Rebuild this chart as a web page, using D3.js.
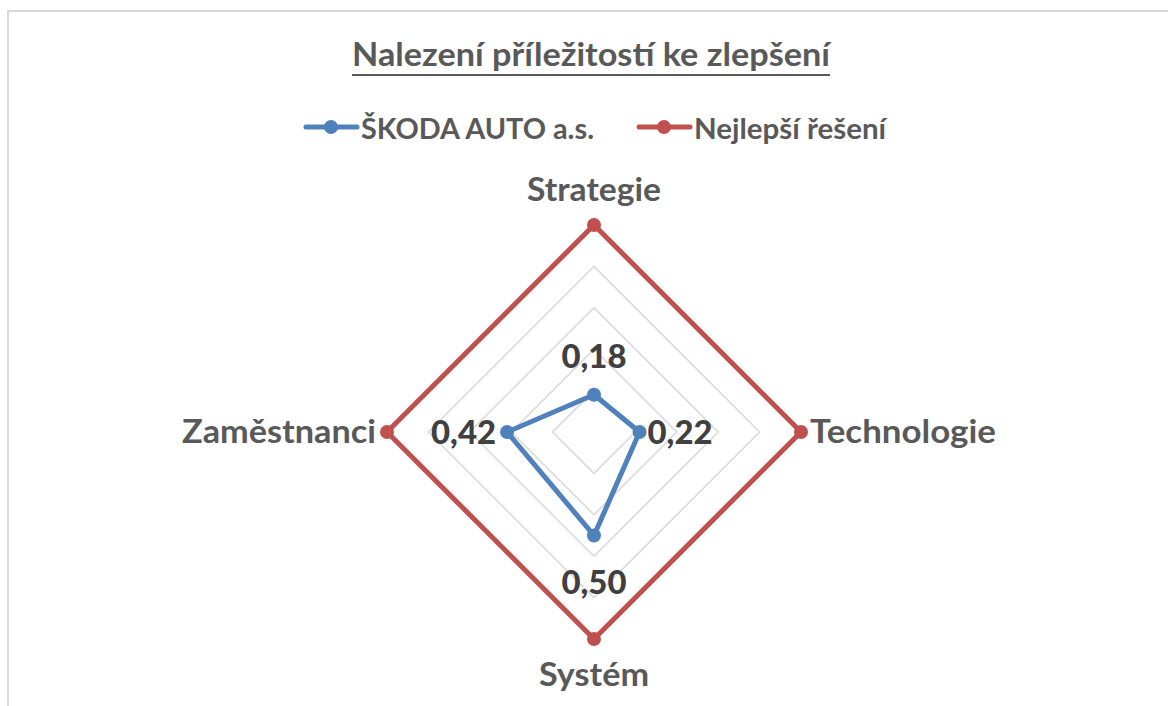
<!DOCTYPE html>
<html>
<head>
<meta charset="utf-8">
<script src="https://cdn.jsdelivr.net/npm/d3@7"></script>
<style>
  body { margin: 0; background: #fff; }
  text { font-family: Lato, "Open Sans", sans-serif; font-weight: bold; }
</style>
</head>
<body>
<div id="chart"></div>
<script>
var categories = ["Strategie", "Technologie", "Systém", "Zaměstnanci"];
var skodaValues = [0.18, 0.22, 0.50, 0.42];
var bestValues = [1, 1, 1, 1];
var gridLevels = [0.2, 0.4, 0.6, 0.8, 1.0];
var seriesNames = ["ŠKODA AUTO a.s.", "Nejlepší řešení"];
var seriesColors = ["#4f81bd", "#c0504d"];

var width = 1168, height = 706;
var cx = 594, cy = 432;

var svg = d3.select("#chart").append("svg")
  .attr("width", width)
  .attr("height", height);

// chart area border (only top/left visible)
svg.append("path")
  .attr("d", "M8,706V11H1168")
  .attr("fill", "none")
  .attr("stroke", "#d9d9d9")
  .attr("stroke-width", 2);

var r = d3.scaleLinear().domain([0, 1]).range([0, 207]);
var angle = d3.scaleBand().domain(categories).range([0, 2 * Math.PI]);

function project(cat, v) {
  var a = angle(cat) - Math.PI / 2;
  return [cx + r(v) * Math.cos(a), cy + r(v) * Math.sin(a)];
}

var g = svg.append("g");

// grid diamonds
g.selectAll(".grid")
  .data(gridLevels)
  .enter().append("polygon")
    .attr("class", "grid")
    .attr("points", function(l) {
      return categories.map(function(c) { return project(c, l).join(","); }).join(" ");
    })
    .attr("fill", "none")
    .attr("stroke", "#d9d9d9")
    .attr("stroke-width", 1.5);

var series = [skodaValues, bestValues];

series.forEach(function(vals, si) {
  var pts = categories.map(function(c, i) { return project(c, vals[i]); });
  g.append("polygon")
    .attr("points", pts.map(function(p) { return p.join(","); }).join(" "))
    .attr("fill", "none")
    .attr("stroke", seriesColors[si])
    .attr("stroke-width", 5)
    .attr("stroke-linejoin", "round");
  g.selectAll(".m" + si)
    .data(pts)
    .enter().append("circle")
      .attr("cx", function(p) { return p[0]; })
      .attr("cy", function(p) { return p[1]; })
      .attr("r", 7)
      .attr("fill", seriesColors[si]);
});

// data labels for ŠKODA (offsets to baseline)
var labelPos = [
  { dx: 0, dy: -27, anchor: "middle" },
  { dx: 8, dy: 12, anchor: "start" },
  { dx: 0, dy: 58, anchor: "middle" },
  { dx: -11, dy: 12, anchor: "end" }
];
categories.forEach(function(c, i) {
  var p = project(c, skodaValues[i]);
  g.append("text")
    .attr("x", p[0] + labelPos[i].dx)
    .attr("y", p[1] + labelPos[i].dy)
    .attr("text-anchor", labelPos[i].anchor)
    .attr("fill", "#404040")
    .attr("textLength", 65)
    .attr("lengthAdjust", "spacingAndGlyphs")
    .style("font-size", "32px")
    .style("font-weight", 900)
    .text(d3.format(".2f")(skodaValues[i]).replace(".", ","));
});

// category labels
var catPos = [
  { dx: 0, dy: -24, anchor: "middle", w: 134 },
  { dx: 9, dy: 11, anchor: "start", w: 186 },
  { dx: 0, dy: 47, anchor: "middle", w: 110 },
  { dx: -11, dy: 11, anchor: "end", w: 194 }
];
categories.forEach(function(c, i) {
  var p = project(c, 1);
  g.append("text")
    .attr("x", p[0] + catPos[i].dx)
    .attr("y", p[1] + catPos[i].dy)
    .attr("text-anchor", catPos[i].anchor)
    .attr("fill", "#595959")
    .attr("textLength", catPos[i].w)
    .attr("lengthAdjust", "spacingAndGlyphs")
    .style("font-size", "32px")
    .text(c);
});

// title
svg.append("text")
  .attr("x", 352)
  .attr("y", 66)
  .attr("fill", "#595959")
  .attr("textLength", 478)
  .attr("lengthAdjust", "spacingAndGlyphs")
  .style("font-size", "33px")
  .text("Nalezení příležitostí ke zlepšení");
svg.append("line")
  .attr("x1", 352).attr("x2", 830)
  .attr("y1", 75).attr("y2", 75)
  .attr("stroke", "#595959")
  .attr("stroke-width", 2);

// legend
var legendX = [304, 637];
var legendW = [233, 192];
seriesNames.forEach(function(name, i) {
  var lg = svg.append("g").attr("transform", "translate(" + legendX[i] + ",127)");
  lg.append("line")
    .attr("x1", 2).attr("x2", 53)
    .attr("stroke", seriesColors[i])
    .attr("stroke-width", 5)
    .attr("stroke-linecap", "round");
  lg.append("circle").attr("cx", 27).attr("r", 7).attr("fill", seriesColors[i]);
  lg.append("text")
    .attr("x", 57)
    .attr("y", 12)
    .attr("fill", "#595959")
    .attr("textLength", legendW[i])
    .attr("lengthAdjust", "spacingAndGlyphs")
    .style("font-size", "29px")
    .text(name);
});
</script>
</body>
</html>
